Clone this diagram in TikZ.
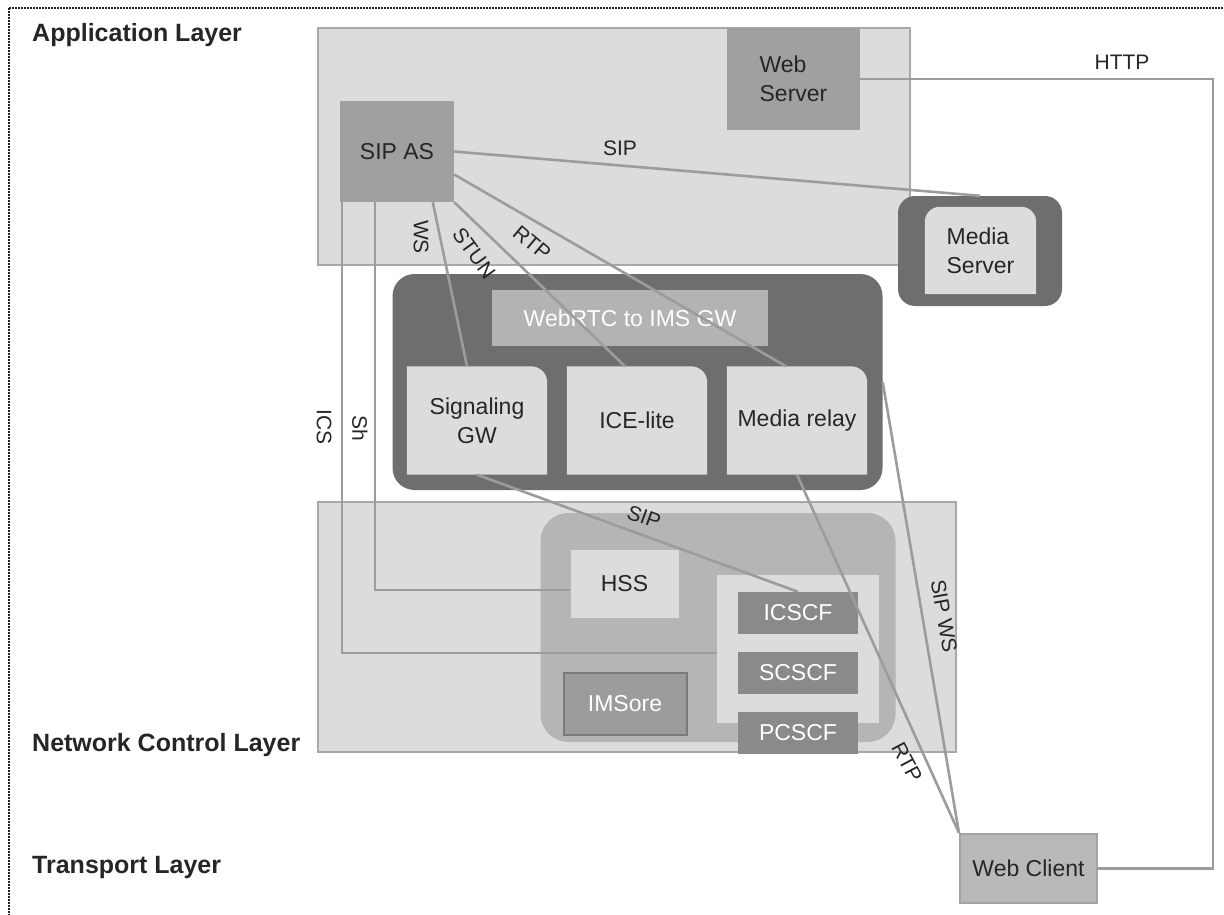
\documentclass[tikz,border=0pt]{standalone}
\usepackage{fontspec}
\setmainfont{Liberation Sans}
\pgfdeclarelayer{bg}
\pgfsetlayers{bg,main}
\definecolor{lay}{HTML}{DCDCDC}
\definecolor{layb}{HTML}{A8A8A8}
\definecolor{midg}{HTML}{A0A0A0}
\definecolor{darkg}{HTML}{6E6E6E}
\definecolor{barg}{HTML}{B3B3B3}
\definecolor{imsg}{HTML}{B5B5B5}
\definecolor{cscfg}{HTML}{8A8A8A}
\definecolor{coreg}{HTML}{9C9C9C}
\definecolor{coreb}{HTML}{7A7A7A}
\definecolor{wcg}{HTML}{B9B9B9}
\definecolor{wcb}{HTML}{A3A3A3}
\definecolor{lineg}{HTML}{9C9C9C}
\definecolor{txt}{HTML}{262626}
\definecolor{frame}{HTML}{222222}
\tikzset{
  box/.style={rectangle, inner sep=0pt, align=center, text=txt, font=\fontsize{23}{29}\selectfont},
  layerlbl/.style={anchor=west, inner sep=0pt, text=txt, font=\bfseries\fontsize{25}{28}\selectfont},
  conn/.style={draw=lineg, line width=2.6pt},
  lbl/.style={inner sep=0pt, text=txt, font=\fontsize{21}{24}\selectfont},
  layerbox/.style={box, fill=lay, draw=layb, line width=1.5pt},
  darkbox/.style={box, fill=darkg},
  cscfbox/.style={box, fill=cscfg, text=white, minimum width=120pt, minimum height=42pt},
}
\begin{document}
\begin{tikzpicture}[x=1pt,y=-1pt]
\useasboundingbox (0,0) rectangle (1224,915);
\draw[frame, line width=2pt, dash pattern=on 2pt off 1pt] (9,8) rectangle (1234,926);

% layer labels
\node[layerlbl] (lapp) at (32,35) {Application Layer};
\node[layerlbl] (lncl) at (32,745) {Network Control Layer};
\node[layerlbl] (ltr) at (32,867) {Transport Layer};

\begin{pgfonlayer}{bg}
\node[layerbox, minimum width=592pt, minimum height=237pt] (app) at (614,146.5) {};
\node[layerbox, minimum width=638pt, minimum height=250pt] (ncl) at (637,627) {};
\node[box, fill=imsg, rounded corners=28pt, minimum width=355pt, minimum height=229pt] (ims) at (718,627.5) {};
\node[darkbox, rounded corners=22pt, minimum width=490pt, minimum height=216pt] (gw) at (637.5,382) {};
\node[darkbox, rounded corners=17pt, minimum width=164pt, minimum height=110pt] (msout) at (980,251) {};
\node[box, fill=lay, minimum width=162pt, minimum height=148pt] (cscf) at (798,649) {};
\end{pgfonlayer}

% application layer
\node[box, fill=midg, align=left, minimum width=133pt, minimum height=102pt] (ws) at (793.5,79) {Web\\Server};
\node[box, fill=midg, minimum width=114pt, minimum height=101pt] (sipas) at (397,151.5) {SIP AS};
\node[box, align=left, minimum width=111pt, minimum height=87pt] (ms) at (980.5,250.5) {Media\\Server};

% gateway
\node[box, fill=barg, text=white, minimum width=276pt, minimum height=56pt] (bar) at (630,318) {WebRTC to IMS GW};
\node[box, minimum width=140pt, minimum height=108pt] (sg) at (477,420.5) {Signaling\\GW};
\node[box, minimum width=140pt, minimum height=108pt] (ice) at (637,420.5) {ICE-lite};
\node[box, minimum width=140pt, minimum height=108pt] (mr) at (797,420.5) {Media relay};
\begin{pgfonlayer}{bg}
\foreach \n in {sg,ice,mr}{
  \fill[lay] (\n.south west) -- (\n.north west) [rounded corners=16pt] -- (\n.north east) [sharp corners] -- (\n.south east) -- cycle;
}
\fill[lay] (ms.south west) [rounded corners=15pt] -- (ms.north west) -- (ms.north east) [sharp corners] -- (ms.south east) -- cycle;
\end{pgfonlayer}

% network control
\node[box, fill=lay, minimum width=108pt, minimum height=68pt] (hss) at (624.5,584) {HSS};
\node[cscfbox] (icscf) at (798,613) {ICSCF};
\node[cscfbox] (scscf) at (798,673) {SCSCF};
\node[cscfbox] (pcscf) at (798,733) {PCSCF};
\node[box, fill=coreg, draw=coreb, line width=2pt, text=white, minimum width=123pt, minimum height=62pt] (core) at (625,704) {IMSore};

% transport
\node[box, fill=wcg, draw=wcb, line width=2pt, minimum width=137pt, minimum height=69pt] (wc) at (1028.5,868.5) {Web Client};

% connectors
\coordinate (hc) at (1213,79);
\draw[conn] (ws.east) -- (hc) |- (wc.east);
\draw[conn] (sipas.east) -- (msout.north);
\draw[conn] ([xshift=93pt]sipas.south west) -- ([xshift=-10pt]sg.north);
\draw[conn] (sipas.south east) -- ([xshift=-12pt]ice.north);
\draw[conn] ([yshift=-23pt]sipas.east) -- ([xshift=-11pt]mr.north);
\draw[conn] ([xshift=2pt]sipas.south west) |- ([yshift=-4pt]cscf.west);
\draw[conn] ([xshift=35pt]sipas.south west) |- ([yshift=-6pt]hss.west);
\draw[conn] (sg.south) -- (icscf.north);
\draw[conn] (gw.east) -- (wc.north west);
\draw[conn] (mr.south) -- (wc.north west);

% connector labels
\node[lbl] (tHTTP) at (1122,62) {HTTP};
\node[lbl] (tSIP1) at (620,148) {SIP};
\node[lbl, rotate=-90] (tWS) at (421,237) {WS};
\node[lbl, rotate=-54] (tSTUN) at (474,253) {STUN};
\node[lbl, rotate=-40] (tRTP1) at (532,243) {RTP};
\node[lbl, rotate=-90] (tICS) at (324,427) {ICS};
\node[lbl, rotate=-90] (tSh) at (360,428) {Sh};
\node[lbl, rotate=-20] (tSIP2) at (644,517) {SIP};
\node[lbl, rotate=-80] (tSIPWS) at (944,616) {SIP WS};
\node[lbl, rotate=-62] (tRTP2) at (907,762) {RTP};
\end{tikzpicture}
\end{document}
